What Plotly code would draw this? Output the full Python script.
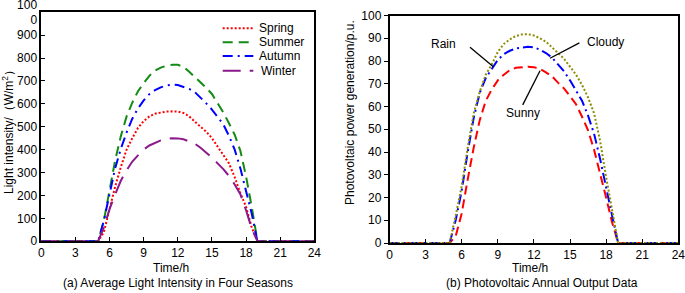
import plotly.graph_objects as go

# ---------------- data ----------------
hours = [0, 1, 2, 3, 4, 5, 5.5, 6, 6.5, 7, 7.5, 8, 8.5, 9, 9.5, 10, 10.5, 11, 11.5,
         12, 12.5, 13, 13.5, 14, 14.5, 15, 15.5, 16, 16.5, 17, 17.5, 18, 18.5, 19,
         20, 21, 22, 23, 24]

spring = [0, 0, 0, 0, 0, 0, 40, 140, 240, 325, 400, 450, 495, 525, 545, 557, 563, 566, 567,
          566, 560, 545, 522, 500, 478, 450, 415, 380, 340, 280, 210, 150, 60, 0,
          0, 0, 0, 0, 0]
summer = [0, 0, 0, 0, 0, 0, 90, 220, 355, 460, 545, 605, 655, 690, 722, 745, 758, 766, 770,
          770, 762, 740, 718, 695, 670, 643, 605, 562, 515, 465, 395, 283, 150, 0,
          0, 0, 0, 0, 0]
autumn = [0, 0, 0, 0, 0, 0, 90, 210, 320, 405, 475, 535, 580, 615, 642, 660, 672, 680, 684,
          682, 675, 665, 651, 628, 602, 575, 545, 510, 460, 400, 318, 225, 120, 0,
          0, 0, 0, 0, 0]
winter = [0, 0, 0, 0, 0, 0, 60, 140, 205, 265, 310, 348, 375, 400, 418, 430, 440, 446, 450,
          449, 445, 436, 426, 408, 388, 365, 340, 315, 285, 248, 205, 135, 55, 0,
          0, 0, 0, 0, 0]

sunny = [0, 0, 0, 0, 0, 0, 3, 13, 28, 42, 54, 62.5, 67.5, 71.5, 74, 76, 77, 77.4, 77.5,
         77.3, 76.5, 75, 73.3, 70.5, 68, 64.5, 61, 55.5, 49.5, 41, 31, 20, 9, 0,
         0, 0, 0, 0, 0]
cloudy = [0, 0, 0, 0, 0, 0, 10, 23, 40, 55, 66, 72.5, 76.5, 80.5, 83, 84.5, 85.5, 86, 86.3,
          86, 85, 83.5, 81.5, 78.5, 75.5, 71.5, 67, 62.5, 56, 48, 37, 24, 12, 0,
          0, 0, 0, 0, 0]
rain = [0, 0, 0, 0, 0, 0, 12, 25, 42, 57, 66.5, 74, 78.5, 84, 87.5, 89.5, 91, 91.7, 91.8,
        91.2, 90, 88.5, 86, 83.5, 81, 77.5, 74, 69.5, 64, 57, 45, 29, 14, 0,
        0, 0, 0, 0, 0]

season_names = ["Spring", "Summer", "Autumn", "Winter"]
x_ticks = [0, 3, 6, 9, 12, 15, 18, 21, 24]
y1_ticks = [0, 100, 200, 300, 400, 500, 600, 700, 800, 900, 1000]
y1_ticktext = ["0", "100", "200", "300", "400", "500", "600", "700", "800", "900", "100<br>0"]
y2_ticks = [0, 10, 20, 30, 40, 50, 60, 70, 80, 90, 100]

W, H = 685, 293
FONT = "Liberation Sans, Arial, sans-serif"

season_styles = [
    dict(color="#ff0000", width=2, dash="2px,2px"),
    dict(color="#138a13", width=2, dash="10px,6px"),
    dict(color="#0000ff", width=2, dash="10px,5px,2px,5px"),
    dict(color="#8b1a8b", width=2, dash="18px,9px"),
]

fig = go.Figure()

# ---------- left panel ----------
for name, vals, st in zip(season_names, [spring, summer, autumn, winter], season_styles):
    fig.add_trace(go.Scatter(x=hours, y=vals, name=name, mode="lines", showlegend=False,
                             line=st, xaxis="x", yaxis="y"))

# ---------- right panel ----------
fig.add_trace(go.Scatter(x=hours, y=sunny, name="Sunny", mode="lines", showlegend=False,
                         line=dict(color="#ff0000", width=2, dash="9px,5px"), xaxis="x2", yaxis="y2"))
fig.add_trace(go.Scatter(x=hours, y=cloudy, name="Cloudy", mode="lines", showlegend=False,
                         line=dict(color="#0000ff", width=2, dash="10px,4px,2px,4px"), xaxis="x2", yaxis="y2"))
fig.add_trace(go.Scatter(x=hours, y=rain, name="Rain", mode="lines", showlegend=False,
                         line=dict(color="#8c8c00", width=2, dash="2px,2px"), xaxis="x2", yaxis="y2"))

axis_common = dict(showline=True, linecolor="black", linewidth=1.5, mirror=True,
                   showgrid=False, zeroline=False, ticklen=4, tickwidth=1, tickcolor="black",
                   automargin=False, ticklabeloverflow="allow",
                   tickfont=dict(family=FONT, size=12, color="black"))

L_x0, L_x1 = 41.3, 314.3
L_y0, L_y1 = 241.2, 12.2
R_x0, R_x1 = 389.5, 678.3
R_y0, R_y1 = 243.0, 15.5

fig.update_layout(
    template="none",
    width=W, height=H,
    margin=dict(l=0, r=0, t=0, b=0, autoexpand=False),
    paper_bgcolor="white", plot_bgcolor="white",
    font=dict(family=FONT, size=12, color="black"),
    showlegend=False,
    xaxis=dict(domain=[L_x0 / W, L_x1 / W], range=[0, 24], tickvals=x_ticks,
               ticks="inside", anchor="y", **axis_common),
    yaxis=dict(domain=[1 - L_y0 / H, 1 - L_y1 / H], range=[0, 1000], tickvals=y1_ticks,
               ticktext=y1_ticktext, ticks="inside", anchor="x", **axis_common),
    xaxis2=dict(domain=[R_x0 / W, R_x1 / W], range=[0, 24], tickvals=x_ticks,
                ticks="inside", anchor="y2", **axis_common),
    yaxis2=dict(domain=[1 - R_y0 / H, 1 - R_y1 / H], range=[0, 100], tickvals=y2_ticks,
                ticks="outside", anchor="x2", **axis_common),
)


def paper_text(text, px, py, **kw):
    d = dict(text=text, x=px / W, y=1 - py / H, xref="paper", yref="paper",
             showarrow=False, xanchor="center", yanchor="middle")
    d.update(kw)
    return d


ann = []
shapes = []
# manual legend (left panel)
leg_y = [28.3, 42.3, 56.0, 70.7]
for name, st, yy in zip(season_names, season_styles, leg_y):
    shapes.append(dict(type="line", xref="paper", yref="paper",
                       x0=222.7 / W, x1=253.3 / W, y0=1 - yy / H, y1=1 - yy / H,
                       line=dict(color=st["color"], width=st["width"], dash=st["dash"])))
    ann.append(paper_text(name, 257 if name != "Winter" else 259, yy, xanchor="left"))

# axis titles
ann.append(paper_text("Time/h", 171, 268))
ann.append(paper_text("(a) Average Light Intensity in Four Seasons", 178, 283))
ann.append(paper_text("Time/h", 530, 268))
ann.append(paper_text("(b) Photovoltaic Annual Output Data", 541.7, 283))
ann.append(paper_text("Light intensity/（W/m<sup>2</sup>）", 8, 129, textangle=-90))
ann.append(paper_text("Photovoltaic power generation/p.u.", 350, 113, textangle=-90))
# curve labels on right panel
ann.append(dict(text="Rain", x=4.45, y=87.5, xref="x2", yref="y2", showarrow=False,
                xanchor="center", yanchor="middle"))
ann.append(dict(text="Cloudy", x=17.97, y=88.2, xref="x2", yref="y2", showarrow=False,
                xanchor="center", yanchor="middle"))
ann.append(dict(text="Sunny", x=11.12, y=57.0, xref="x2", yref="y2", showarrow=False,
                xanchor="center", yanchor="middle"))

shapes += [
    dict(type="line", xref="x2", yref="y2", x0=6.69, y0=86.0, x1=8.63, y1=77.5,
         line=dict(color="black", width=1.3)),
    dict(type="line", xref="x2", yref="y2", x0=15.78, y0=88.0, x1=13.34, y1=81.2,
         line=dict(color="black", width=1.3)),
    dict(type="line", xref="x2", yref="y2", x0=11.07, y0=60.7, x1=12.51, y1=75.7,
         line=dict(color="black", width=1.3)),
]
fig.update_layout(annotations=ann, shapes=shapes)

fig.write_html("out.html", config={"displayModeBar": False},
               post_script="document.body.style.margin='0';")
